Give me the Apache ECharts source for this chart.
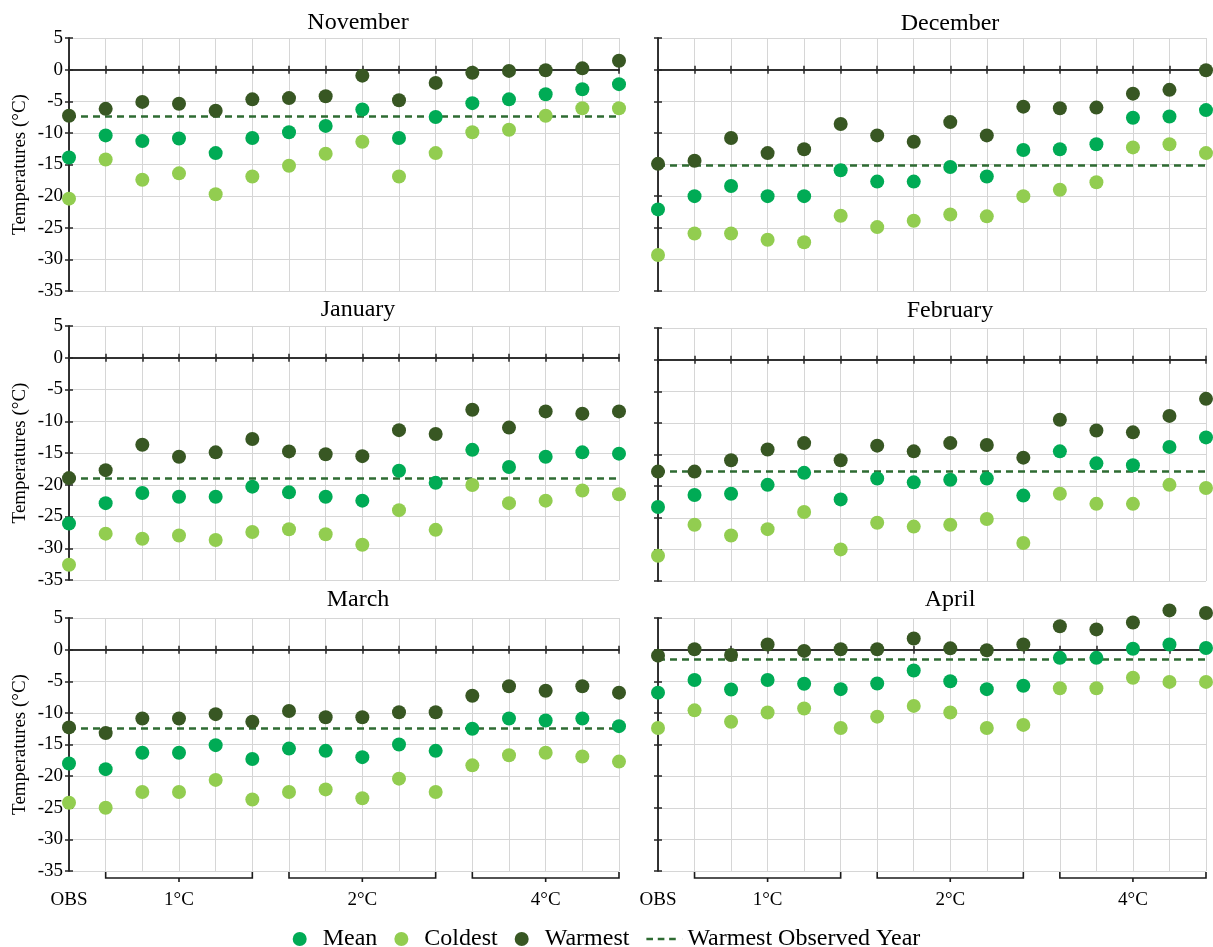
<!DOCTYPE html>
<html>
<head>
<meta charset="utf-8">
<script src="https://cdn.jsdelivr.net/npm/echarts@6/dist/echarts.min.js"></script>
<style>
html,body{margin:0;padding:0;background:#ffffff;}
#chart{width:1213px;height:947px;}
</style>
</head>
<body>
<div id="chart"></div>
<script>
// ---------------- DATA ----------------
const months = ['November', 'December', 'January', 'February', 'March', 'April'];
const categories = ['OBS',
  '1°C-1', '1°C-2', '1°C-3', '1°C-4', '1°C-5',
  '2°C-1', '2°C-2', '2°C-3', '2°C-4', '2°C-5',
  '4°C-1', '4°C-2', '4°C-3', '4°C-4', '4°C-5'];
const tickLabels = ['OBS', '', '', '1°C', '', '', '', '', '2°C', '', '', '', '', '4°C', '', ''];
const groupStart = [1, 6, 11];
const groupEnd = [5, 10, 15];
const groupMid = [3, 8, 13];
const yMin = -35, yMax = 5, yStep = 5;

const meanNov = [-13.9, -10.4, -11.3, -10.9, -13.2, -10.8, -9.9, -8.9, -6.3, -10.8, -7.5, -5.3, -4.7, -3.9, -3.1, -2.3];
const coldNov = [-20.4, -14.2, -17.4, -16.4, -19.7, -16.9, -15.2, -13.3, -11.4, -16.9, -13.2, -9.9, -9.5, -7.3, -6.1, -6.1];
const warmNov = [-7.3, -6.2, -5.1, -5.4, -6.5, -4.7, -4.5, -4.2, -0.95, -4.85, -2.1, -0.5, -0.2, -0.1, 0.2, 1.4];

const meanDec = [-22.1, -20.0, -18.4, -20.0, -20.0, -15.9, -17.7, -17.7, -15.4, -16.9, -12.7, -12.6, -11.8, -7.6, -7.4, -6.4];
const coldDec = [-29.3, -25.9, -25.9, -26.9, -27.3, -23.1, -24.9, -23.9, -22.9, -23.2, -20.0, -19.0, -17.8, -12.3, -11.8, -13.2];
const warmDec = [-14.9, -14.4, -10.8, -13.2, -12.6, -8.6, -10.4, -11.4, -8.3, -10.4, -5.85, -6.1, -6.0, -3.8, -3.2, -0.1];

const meanJan = [-26.1, -22.9, -21.3, -21.9, -21.9, -20.3, -21.2, -21.9, -22.5, -17.8, -19.7, -14.5, -17.2, -15.6, -14.9, -15.1];
const coldJan = [-32.6, -27.7, -28.5, -28.0, -28.7, -27.45, -27.0, -27.8, -29.45, -24.0, -27.1, -20.05, -22.9, -22.5, -20.9, -21.5];
const warmJan = [-18.95, -17.7, -13.7, -15.6, -14.9, -12.8, -14.75, -15.2, -15.5, -11.4, -12.0, -8.2, -11.0, -8.45, -8.8, -8.45];

const meanFeb = [-23.3, -21.4, -21.2, -19.8, -17.9, -22.1, -18.8, -19.4, -19.0, -18.8, -21.5, -14.5, -16.4, -16.7, -13.8, -12.3];
const coldFeb = [-31.0, -26.1, -27.8, -26.8, -24.1, -30.0, -25.8, -26.4, -26.1, -25.2, -29.0, -21.2, -22.8, -22.8, -19.8, -20.3];
const warmFeb = [-17.7, -17.7, -15.9, -14.2, -13.2, -15.9, -13.6, -14.5, -13.2, -13.5, -15.5, -9.5, -11.2, -11.5, -8.9, -6.2];

const meanMar = [-18.0, -18.9, -16.3, -16.3, -15.1, -17.3, -15.65, -16.0, -17.0, -15.0, -16.0, -12.5, -10.9, -11.2, -10.9, -12.1];
const coldMar = [-24.2, -25.0, -22.5, -22.5, -20.6, -23.7, -22.5, -22.1, -23.5, -20.4, -22.5, -18.3, -16.7, -16.3, -16.9, -17.7];
const warmMar = [-12.3, -13.2, -10.9, -10.9, -10.2, -11.4, -9.7, -10.7, -10.7, -9.9, -9.9, -7.3, -5.8, -6.5, -5.8, -6.8];

const meanApr = [-6.8, -4.8, -6.3, -4.8, -5.4, -6.25, -5.35, -3.3, -5.0, -6.25, -5.7, -1.3, -1.3, 0.15, 0.8, 0.25];
const coldApr = [-12.4, -9.6, -11.4, -9.95, -9.3, -12.4, -10.6, -8.9, -9.95, -12.4, -11.9, -6.1, -6.1, -4.45, -5.1, -5.1];
const warmApr = [-0.95, 0.05, -0.85, 0.8, -0.2, 0.05, 0.05, 1.75, 0.2, -0.1, 0.8, 3.7, 3.2, 4.3, 6.2, 5.8];

const warmestObserved = [-7.4, -15.1, -19.05, -17.6, -12.4, -1.5];

const meanAll = [meanNov, meanDec, meanJan, meanFeb, meanMar, meanApr];
const coldAll = [coldNov, coldDec, coldJan, coldFeb, coldMar, coldApr];
const warmAll = [warmNov, warmDec, warmJan, warmFeb, warmMar, warmApr];

// ---------------- LAYOUT / STYLE ----------------
const FONT = "'Liberation Serif', 'Times New Roman', serif";
const C_MEAN = '#00ab55';
const C_COLD = '#92cd50';
const C_WARM = '#385723';
const C_OBS = '#2e6b32';
const C_GRID = '#d6d6d6';
const C_AXIS = '#262626';
const DASH_ICON = 'path://M0,0H7V2.5H0Z M12,0H19V2.5H12Z M24,0H31V2.5H24Z M37.7,1.1H38V1.4H37.7Z';

const gridBoxes = [
  [69, 38, 550, 253], [658, 38, 548, 253],
  [69, 326, 550, 254], [658, 328, 548, 253],
  [69, 618, 550, 253], [658, 618, 548, 253]
];
const titlePos = [[358, 11], [950, 12], [358, 298], [950, 299], [358, 588], [950, 588]];

const grids = [], xAxes = [], yAxes = [], series = [], titles = [];

months.forEach((m, k) => {
  const row = Math.floor(k / 2), col = k % 2;
  const g = gridBoxes[k];
  grids.push({left: g[0], top: g[1], width: g[2], height: g[3], containLabel: false, outerBoundsMode: 'none'});
  titles.push({
    text: m, left: titlePos[k][0], top: titlePos[k][1], textAlign: 'center', padding: 0,
    textStyle: {fontFamily: FONT, fontSize: 24, fontWeight: 'normal', color: '#000'}
  });

  // labels axis (bottom, carries vertical grid lines)
  xAxes.push({
    gridIndex: k, type: 'category', data: categories, boundaryGap: false, position: 'bottom',
    axisLine: {show: false, onZero: false}, axisTick: {show: false},
    axisLabel: {
      show: row === 2, interval: 0, margin: 20, formatter: (v, i) => tickLabels[i],
      fontFamily: FONT, fontSize: 19, color: '#000'
    },
    splitLine: {show: true, interval: 0, lineStyle: {color: C_GRID, width: 1}}
  });
  // zero line, ticks downward
  xAxes.push({
    gridIndex: k, type: 'category', data: categories, boundaryGap: false, position: 'bottom', z: 2,
    axisLine: {show: true, onZero: true, lineStyle: {color: C_AXIS, width: 1.5}},
    axisTick: {show: true, interval: 0, inside: false, length: 4, lineStyle: {color: C_AXIS, width: 1.5}},
    axisLabel: {show: false}, splitLine: {show: false}
  });
  // zero line, ticks upward
  xAxes.push({
    gridIndex: k, type: 'category', data: categories, boundaryGap: false, position: 'bottom', z: 2,
    axisLine: {show: true, onZero: true, lineStyle: {color: C_AXIS, width: 1.5}},
    axisTick: {show: true, interval: 0, inside: true, length: 4, lineStyle: {color: C_AXIS, width: 1.5}},
    axisLabel: {show: false}, splitLine: {show: false}
  });

  yAxes.push({
    gridIndex: k, type: 'value', min: yMin, max: yMax, interval: yStep, position: 'left', z: 2,
    axisLine: {show: true, onZero: false, lineStyle: {color: C_AXIS, width: 1.5}},
    axisTick: {show: true, inside: false, length: 4, lineStyle: {color: C_AXIS, width: 1.5}},
    axisLabel: {show: col === 0, margin: 6, fontFamily: FONT, fontSize: 19, color: '#000'},
    splitLine: {show: true, lineStyle: {color: C_GRID, width: 1}},
    name: col === 0 ? 'Temperatures (°C)' : '', nameLocation: 'middle', nameGap: 39,
    nameTextStyle: {fontFamily: FONT, fontSize: 19, color: '#000'}
  });
  yAxes.push({
    gridIndex: k, type: 'value', min: yMin, max: yMax, interval: yStep, position: 'left', z: 2,
    axisLine: {show: true, onZero: false, lineStyle: {color: C_AXIS, width: 1.5}},
    axisTick: {show: true, inside: true, length: 4, lineStyle: {color: C_AXIS, width: 1.5}},
    axisLabel: {show: false}, splitLine: {show: false}
  });

  const xi = 3 * k, yi = 2 * k;
  const sc = (name, data, color) => ({
    name, type: 'scatter', xAxisIndex: xi, yAxisIndex: yi, data,
    symbol: 'circle', symbolSize: 14, clip: false, z: 10,
    itemStyle: {color, opacity: 1}, emphasis: {disabled: true}
  });
  series.push(sc('Mean', meanAll[k], C_MEAN));
  series.push(sc('Coldest', coldAll[k], C_COLD));
  series.push(sc('Warmest', warmAll[k], C_WARM));
  series.push({
    name: 'Warmest Observed Year', type: 'line', xAxisIndex: xi, yAxisIndex: yi, data: [],
    symbol: 'none', color: C_OBS,
    itemStyle: {color: C_OBS},
    lineStyle: {color: C_OBS, width: 2.5, type: [7, 5]},
    markLine: {
      silent: true, symbol: ['none', 'none'], label: {show: false}, z: 5,
      lineStyle: {color: C_OBS, width: 2.5, type: [7, 5]},
      emphasis: {disabled: true},
      data: [{yAxis: warmestObserved[k]}]
    }
  });
  if (row === 2) {
    series.push({
      name: 'groups', type: 'custom', xAxisIndex: xi, yAxisIndex: yi, clip: false, silent: true,
      data: groupStart.map((s, i) => [s, 0, groupEnd[i], groupMid[i]]),
      encode: {x: 0, y: 1},
      renderItem: (params, api) => {
        const cs = params.coordSys;
        const yb = cs.y + cs.height;
        const x1 = api.coord([api.value(0), 0])[0];
        const x2 = api.coord([api.value(2), 0])[0];
        const xm = api.coord([api.value(3), 0])[0];
        const st = {stroke: '#1a1a1a', lineWidth: 1.6, fill: null};
        return {
          type: 'group', children: [
            {type: 'polyline', shape: {points: [[x1, yb + 1], [x1, yb + 7], [x2, yb + 7], [x2, yb + 1]]}, style: st},
            {type: 'line', shape: {x1: xm, y1: yb + 7, x2: xm, y2: yb + 11}, style: st}
          ]
        };
      }
    });
  }
});

const chart = echarts.init(document.getElementById('chart'), null, {renderer: 'canvas'});
chart.setOption({
  backgroundColor: '#ffffff',
  animation: false,
  title: titles,
  legend: {
    top: 922, left: 'center', itemWidth: 36, itemHeight: 14, itemGap: 17, selectedMode: false,
    textStyle: {fontFamily: FONT, fontSize: 24, color: '#000'},
    data: [
      {name: 'Mean', icon: 'circle'},
      {name: 'Coldest', icon: 'circle'},
      {name: 'Warmest', icon: 'circle'},
      {name: 'Warmest Observed Year', icon: DASH_ICON, itemStyle: {color: C_OBS}}
    ]
  },
  grid: grids,
  xAxis: xAxes,
  yAxis: yAxes,
  series: series
});
</script>
</body>
</html>
